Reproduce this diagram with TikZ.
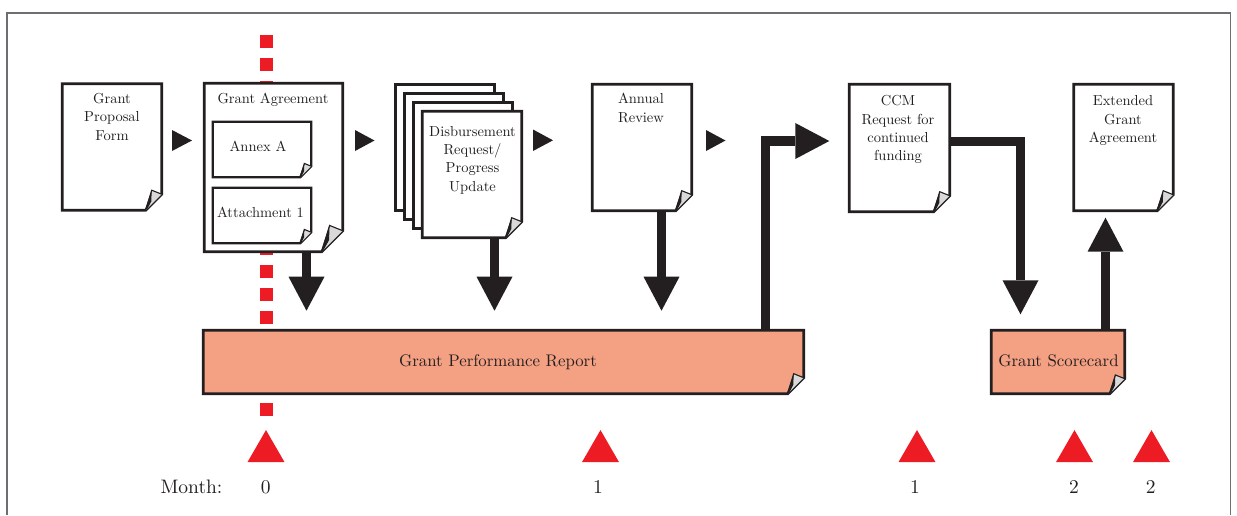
\documentclass[tikz,border=0pt]{standalone}
\usepackage{fontspec}
\setmainfont{lmroman10-regular.otf}
\usetikzlibrary{arrows.meta,shapes.geometric,calc}
\definecolor{blk}{HTML}{231F20}
\definecolor{salmon}{HTML}{F4A083}
\definecolor{redm}{HTML}{ED1C24}
\definecolor{framegray}{HTML}{6D6E71}
\tikzset{
  docbox/.style={rectangle, minimum width=99pt, minimum height=126pt, inner sep=0pt, draw=none},
  docline/.style={draw=blk, fill=white, line width=2.8pt, line join=miter},
  doctext/.style={font=\fontsize{14.5}{18.4}\selectfont, align=center, inner sep=0pt, text=blk, anchor=north},
  bartext/.style={font=\fontsize{16.8}{20}\selectfont, inner sep=0pt, text=blk, anchor=base},
  monthtext/.style={font=\fontsize{19.5}{22}\selectfont, inner sep=0pt, text=blk, anchor=base},
  bigarrow/.style={draw=blk, line width=9.5pt, line join=miter, -{Triangle[width=36pt,length=34pt,line width=0pt]}},
  flowtri/.style={fill=blk},
  redmark/.style={regular polygon, regular polygon sides=3, minimum size=42.7pt, inner sep=0pt, fill=redm, draw=none},
  reddash/.style={draw=redm, line width=13pt, dash pattern=on 13pt off 10pt}
}
\newcommand\docoutline[3][]{%
  \filldraw[docline,#1] (#2.north west) -- (#2.north east) -- ([yshift=#3]#2.south east)
     -- ([xshift=-#3]#2.south east) -- (#2.south west) -- cycle;
  \fill[gray!30] ([xshift=-#3]#2.south east) -- ([xshift=-0.625*#3, yshift=1.25*#3]#2.south east)
     -- ([yshift=#3]#2.south east) -- cycle;
  \draw[blk, line width=1.1pt, line join=miter] ([xshift=-#3]#2.south east)
     -- ([xshift=-0.625*#3, yshift=1.25*#3]#2.south east) -- ([yshift=#3]#2.south east);
  \fill[blk] ([xshift=-#3-1pt]#2.south east) -- ([xshift=-0.625*#3, yshift=1.25*#3]#2.south east)
     -- ([xshift=-0.65*#3, yshift=0.55*#3]#2.south east) -- ([xshift=-#3+1.5pt,yshift=1pt]#2.south east) -- cycle;
}
\begin{document}
\begin{tikzpicture}[x=1pt, y=-1pt]
\useasboundingbox (0,0) rectangle (1237,515);
\draw[framegray, line width=1.3pt] (7,515) -- (7,13) -- (1230.5,13) -- (1230.5,515);

% month-0 dashed marker
\draw[reddash] (266.5,35) -- (266.5,416);

% documents
\node[docbox] (gpf) at (112,147) {};
\node[docbox, minimum width=138pt, minimum height=168pt] (ga) at (273.5,167.5) {};
\node[docbox, minimum width=98pt, minimum height=55pt] (annex) at (262,149.5) {};
\node[docbox, minimum width=98pt, minimum height=55pt] (att) at (262,215.5) {};
\node[docbox] (d1) at (445,147.5) {};
\node[docbox] (d2) at (454,156.5) {};
\node[docbox] (d3) at (463,165.5) {};
\node[docbox] (d4) at (472,174.5) {};
\node[docbox] (ar) at (642,147.5) {};
\node[docbox, minimum width=100pt, minimum height=127pt] (ccm) at (899.5,148) {};
\node[docbox] (ext) at (1123.5,147.5) {};
\node[docbox, minimum width=600pt, minimum height=63pt] (bar) at (503.5,362) {};
\node[docbox, minimum width=133pt, minimum height=63pt] (score) at (1058,362) {};

\docoutline{gpf}{16pt}
\docoutline{ga}{21pt}
\docoutline[line width=2.3pt]{annex}{11pt}
\docoutline[line width=2.3pt]{att}{11pt}
\filldraw[docline] (d1.north west) rectangle (d1.south east);
\filldraw[docline] (d2.north west) rectangle (d2.south east);
\filldraw[docline] (d3.north west) rectangle (d3.south east);
\docoutline{d4}{16pt}
\docoutline{ar}{16pt}
\docoutline{ccm}{16pt}
\docoutline{ext}{16pt}
\docoutline[fill=salmon]{bar}{16pt}
\docoutline[fill=salmon]{score}{15pt}

% flow triangles between documents
\fill[flowtri] (172,130) -- (192,140.5) -- (172,151) -- cycle;
\fill[flowtri] (355,130) -- (374.5,140.5) -- (355,151) -- cycle;
\fill[flowtri] (533,129.5) -- (553,140.3) -- (533,151) -- cycle;
\fill[flowtri] (706,130) -- (725.5,140.5) -- (706,151) -- cycle;

% connectors
\draw[bigarrow] ([xshift=33pt]ga.south) -- ++(0,59);
\draw[bigarrow] ([xshift=22.5pt]d4.south) -- ++(0,73);
\draw[bigarrow] ([xshift=19.5pt]ar.south) -- ++(0,100);
\draw[bigarrow] ([xshift=-38pt]bar.north east) |- ([xshift=-20pt,yshift=7pt]ccm.west);
\draw[bigarrow] ([yshift=6.5pt]ccm.east) -| ([xshift=-37.5pt,yshift=16pt]score.north);
\draw[bigarrow] ([xshift=47.5pt]score.north) -- ([xshift=-18pt,yshift=-7pt]ext.south);

% texts
\node[doctext] (gpf-t) at (112,93) {Grant\\Proposal\\Form};
\node[doctext, anchor=base] (ga-t) at (273,103.3) {Grant Agreement};
\node[doctext, anchor=base] (annex-t) at (258,151.7) {Annex A};
\node[doctext, anchor=base] (att-t) at (260.5,217.3) {Attachment 1};
\node[doctext] (d4-t) at (472.5,125.8) {Disbursement\\Request/\\Progress\\Update};
\node[doctext] (ar-t) at (641,93.1) {Annual\\Review};
\node[doctext] (ccm-t) at (898,95.2) {CCM\\Request for\\continued\\funding};
\node[doctext] (ext-t) at (1123,95.4) {Extended\\Grant\\Agreement};
\node[bartext] (bar-t) at (498,366) {Grant Performance Report};
\node[bartext] (score-t) at (1058.5,366) {Grant Scorecard};

% timeline
\node[redmark] (r0) at (266,451.4) {};
\node[redmark] (r1) at (600.5,451.4) {};
\node[redmark] (r2) at (917,451.4) {};
\node[redmark] (r3) at (1074.5,451.4) {};
\node[redmark] (r4) at (1151.5,451.4) {};
\node[monthtext] (month) at (191.5,493) {Month:};
\node[monthtext] (m0) at (265.7,493) {0};
\node[monthtext] (m1) at (598,493) {1};
\node[monthtext] (m2) at (915,493) {1};
\node[monthtext] (m3) at (1074,493) {2};
\node[monthtext] (m4) at (1150.7,493) {2};
\end{tikzpicture}
\end{document}
